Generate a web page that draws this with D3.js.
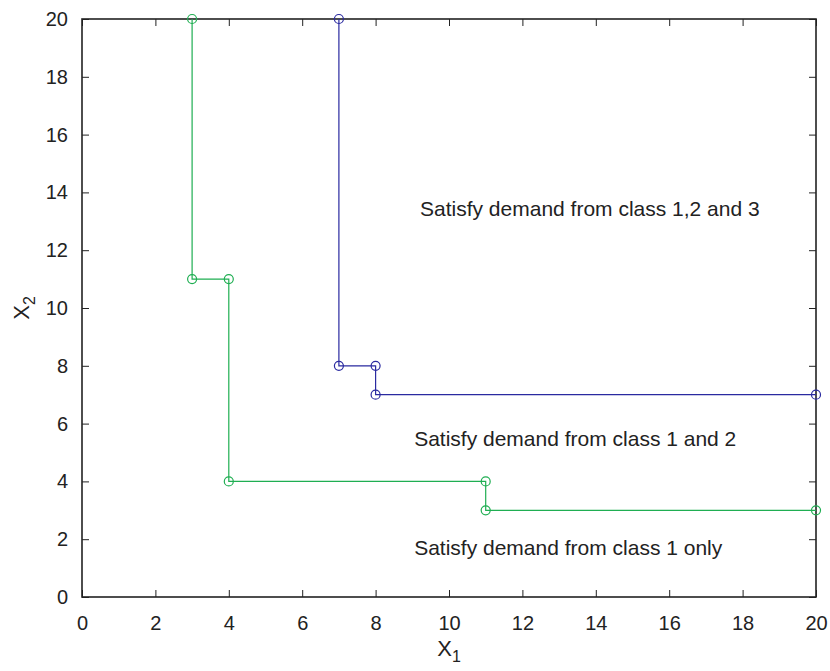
<!DOCTYPE html>
<html>
<head>
<meta charset="utf-8">
<script src="https://cdn.jsdelivr.net/npm/d3@7"></script>
<style>
  body { margin: 0; background: #fff; }
  text { font-family: "Liberation Sans", Arial, sans-serif; fill: #222; }
</style>
</head>
<body>
<svg id="chart" width="830" height="671"></svg>
<script>
// boundary between class 1 and class 1+2 (green)
var greenX = [3, 3, 4, 4, 11, 11, 20];
var greenY = [20, 11, 11, 4, 4, 3, 3];
// boundary between class 1+2 and class 1+2+3 (blue)
var blueX = [7, 7, 8, 8, 20];
var blueY = [20, 8, 8, 7, 7];

var xTicks = [0, 2, 4, 6, 8, 10, 12, 14, 16, 18, 20];
var yTicks = [0, 2, 4, 6, 8, 10, 12, 14, 16, 18, 20];

var regionLabels = ['Satisfy demand from class 1,2 and 3', 'Satisfy demand from class 1 and 2', 'Satisfy demand from class 1 only'];
var regionX = [9.21, 9.05, 9.05];
var regionY = [13.18, 5.22, 1.45];

var margin = { left: 82, top: 19, right: 14, bottom: 74 };
var W = 830, H = 671;
var svg = d3.select('#chart');

var x = d3.scaleLinear().domain([0, 20]).range([margin.left, W - margin.right]);
var y = d3.scaleLinear().domain([0, 20]).range([H - margin.bottom, margin.top]);

var tickLen = 7;
var axisColor = '#222';

// inward ticks on all four sides
function ticks(g, axis, offset) {
    g.attr('transform', offset).call(axis);
    g.select('.domain').remove();
    g.selectAll('.tick line').attr('stroke', axisColor).attr('stroke-width', 1);
    g.selectAll('.tick text').attr('font-size', 20).attr('fill', '#222');
}

svg.append('g').call(ticks, d3.axisBottom(x).tickValues(xTicks).tickSize(-tickLen).tickPadding(19), 'translate(0,' + y(0) + ')');
svg.append('g').call(ticks, d3.axisTop(x).tickValues(xTicks).tickSize(-tickLen).tickFormat(''), 'translate(0,' + y(20) + ')');
svg.append('g').call(ticks, d3.axisLeft(y).tickValues(yTicks).tickSize(-tickLen).tickPadding(14), 'translate(' + x(0) + ',0)');
svg.append('g').call(ticks, d3.axisRight(y).tickValues(yTicks).tickSize(-tickLen).tickFormat(''), 'translate(' + x(20) + ',0)');

svg.append('rect')
    .attr('x', x(0)).attr('y', y(20))
    .attr('width', x(20) - x(0)).attr('height', y(0) - y(20))
    .attr('fill', 'none').attr('stroke', axisColor).attr('stroke-width', 1.6);

function series(xs, ys, color) {
    var pts = xs.map(function(d, i) { return [d, ys[i]]; });
    svg.append('path')
        .datum(pts)
        .attr('fill', 'none')
        .attr('stroke', color)
        .attr('stroke-width', 1.2)
        .attr('d', d3.line().x(function(d) { return x(d[0]); }).y(function(d) { return y(d[1]); }));
    svg.append('g').selectAll('circle')
        .data(pts).enter().append('circle')
        .attr('cx', function(d) { return x(d[0]); })
        .attr('cy', function(d) { return y(d[1]); })
        .attr('r', 4.5)
        .attr('fill', 'none')
        .attr('stroke', color)
        .attr('stroke-width', 1.2);
}

series(greenX, greenY, '#1fae52');
series(blueX, blueY, '#2a2aa0');

svg.append('g').selectAll('text')
    .data(regionLabels).enter().append('text')
    .attr('x', function(d, i) { return x(regionX[i]); })
    .attr('y', function(d, i) { return y(regionY[i]); })
    .attr('font-size', 21)
    .text(function(d) { return d; });

// axis labels
var xl = svg.append('text')
    .attr('x', x(10)).attr('y', 656)
    .attr('text-anchor', 'middle')
    .attr('font-size', 22);
xl.append('tspan').text('X');
xl.append('tspan').attr('font-size', 16).attr('dy', 6).text('1');

var yl = svg.append('text')
    .attr('transform', 'translate(29,' + y(10) + ') rotate(-90)')
    .attr('text-anchor', 'middle')
    .attr('font-size', 22);
yl.append('tspan').text('X');
yl.append('tspan').attr('font-size', 16).attr('dy', 6).text('2');
</script>
</body>
</html>
